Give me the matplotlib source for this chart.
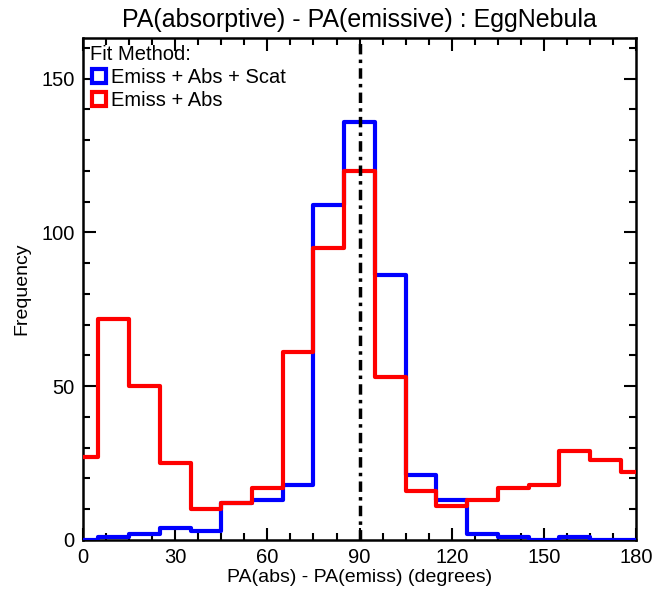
import matplotlib.pyplot as plt
from matplotlib.lines import Line2D
from matplotlib.ticker import MultipleLocator

plt.rcParams['font.family'] = ['Liberation Sans', 'DejaVu Sans']

# bin centres (degrees) and counts
angle = list(range(0, 181, 10))
emiss_abs_scat = [0, 1, 2, 4, 3, 12, 13, 18, 109, 136, 86, 21, 13, 2, 1, 0, 1, 0, 0]
emiss_abs = [27, 72, 50, 25, 10, 12, 17, 61, 95, 120, 53, 16, 11, 13, 17, 18, 29, 26, 22]

fig = plt.figure(figsize=(6.69, 5.94), dpi=100)
ax = fig.add_axes([0.124, 0.091, 0.827, 0.845])

ax.step(angle, emiss_abs_scat, where='mid', color='#0000ff', lw=3, zorder=3)
ax.step(angle, emiss_abs, where='mid', color='#ff0000', lw=3, zorder=4)
ax.axvline(90, color='black', lw=2.5, linestyle=(0, (3, 1.5, 1, 1.5)), zorder=5)

ax.set_xlim(0, 180)
ax.set_ylim(0, 163.2)
ax.xaxis.set_major_locator(MultipleLocator(30))
ax.xaxis.set_minor_locator(MultipleLocator(7.5))
ax.yaxis.set_major_locator(MultipleLocator(50))
ax.yaxis.set_minor_locator(MultipleLocator(10))
ax.tick_params(which='both', direction='in', top=True, right=True, width=1.5, labelsize=14.5)
ax.tick_params(which='major', length=9)
ax.tick_params(which='minor', length=5)
ax.tick_params(axis='x', pad=6)
ax.tick_params(axis='y', pad=6)
for s in ax.spines.values():
    s.set_linewidth(1.8)

ax.set_title('PA(absorptive) - PA(emissive) : EggNebula', fontsize=18, pad=8)
ax.set_xlabel('PA(abs) - PA(emiss) (degrees)', fontsize=14, labelpad=1)
ax.set_ylabel('Frequency', fontsize=14, labelpad=8)

handles = [
    Line2D([], [], ls='none', marker='s', ms=10, mfc='white', mec='#0000ff', mew=3),
    Line2D([], [], ls='none', marker='s', ms=10, mfc='white', mec='#ff0000', mew=3),
]
leg = ax.legend(handles, ['Emiss + Abs + Scat', 'Emiss + Abs'], title='Fit Method:',
                loc='upper left', frameon=False, fontsize=14.5, title_fontsize=14.5,
                alignment='left', handletextpad=0.15, handlelength=0.9,
                borderaxespad=0.2, borderpad=0.15, labelspacing=0.2)

fig.savefig('out.png', dpi=100)
